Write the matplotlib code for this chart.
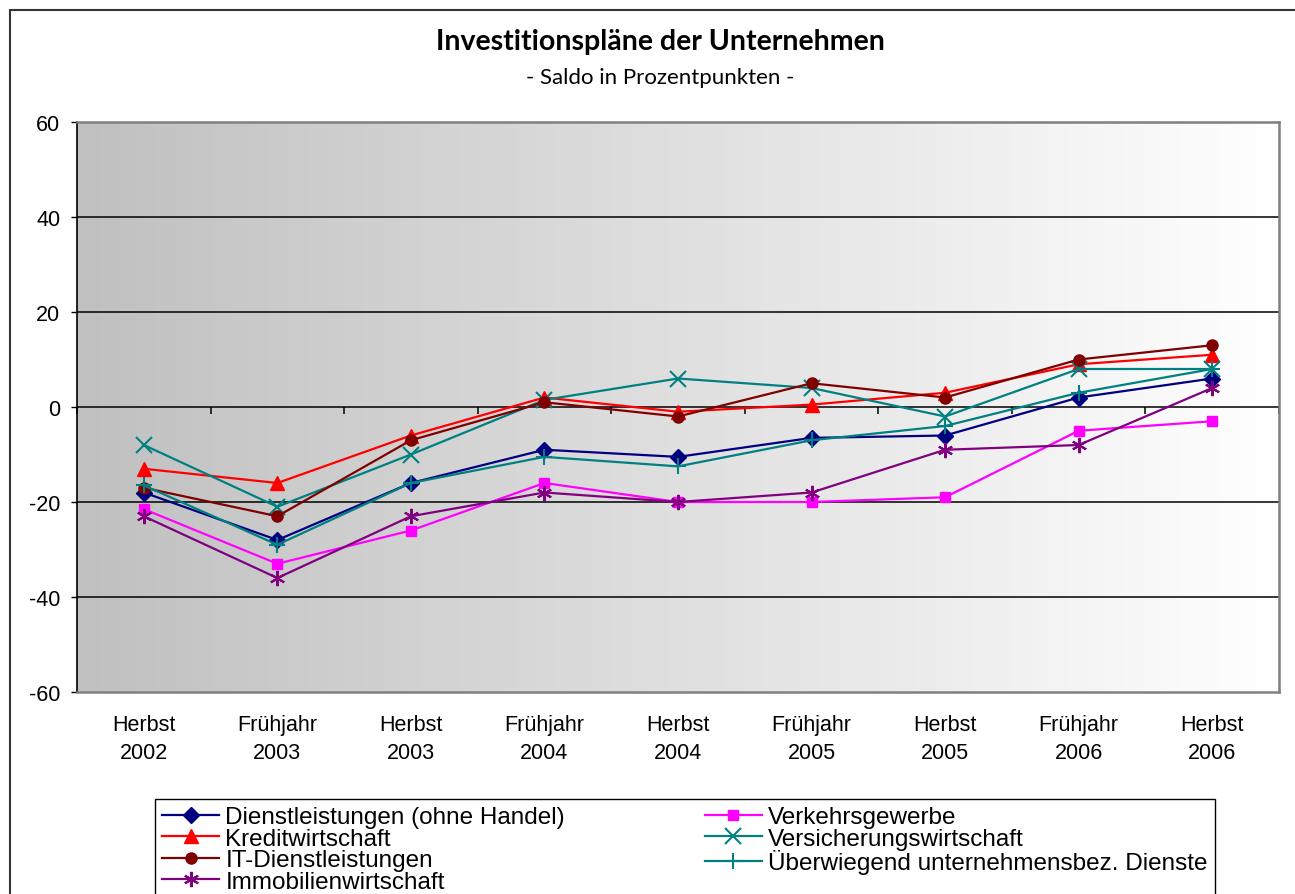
import numpy as np
import matplotlib
matplotlib.use("Agg")
import matplotlib.pyplot as plt
from matplotlib.colors import LinearSegmentedColormap
from matplotlib.patches import Rectangle

categories = ["Herbst\n2002", "Frühjahr\n2003", "Herbst\n2003", "Frühjahr\n2004",
              "Herbst\n2004", "Frühjahr\n2005", "Herbst\n2005", "Frühjahr\n2006",
              "Herbst\n2006"]

dienstleistungen = [-18, -28, -16, -9, -10.5, -6.5, -6, 2, 6]
verkehrsgewerbe = [-21.5, -33, -26, -16, -20, -20, -19, -5, -3]
kreditwirtschaft = [-13, -16, -6, 2, -1, 0.5, 3, 9, 11]
versicherungswirtschaft = [-8, -21, -10, 1.5, 6, 4, -2, 8, 8]
it_dienstleistungen = [-17, -23, -7, 1, -2, 5, 2, 10, 13]
ueberwiegend = [-16.5, -29, -16, -10.5, -12.5, -7, -4, 3, 8]
immobilien = [-23, -36, -23, -18, -20, -18, -9, -8, 4]

yticks = [-60, -40, -20, 0, 20, 40, 60]

title = "Investitionspläne der Unternehmen"
subtitle = "- Saldo in Prozentpunkten -"

plt.rcParams['font.family'] = ['Liberation Sans', 'DejaVu Sans']

W, H = 1295, 895
fig = plt.figure(figsize=(W / 100, H / 100), dpi=100)

# outer border
fig.patches.append(Rectangle((10 / W, -0.05), 1.2, 1 - 11 / H + 0.05,
                             transform=fig.transFigure, fill=False,
                             edgecolor='#333333', linewidth=1.5))

ax = fig.add_axes([77 / W, 1 - 693 / H, (1279 - 77) / W, (693 - 123) / H])

x = np.arange(len(categories))

# gradient background
grad = np.linspace(0, 1, 512).reshape(1, -1)
cmap = LinearSegmentedColormap.from_list("g", ["#c0c0c0", "#ffffff"])
ax.imshow(grad, extent=[-0.5, len(categories) - 0.5, yticks[0], yticks[-1]],
          aspect='auto', cmap=cmap, zorder=0, interpolation='bicubic')

for yv in yticks[1:-1]:
    ax.axhline(yv, color='black', linewidth=1.1, zorder=1)

series = [
    ("Dienstleistungen (ohne Handel)", dienstleistungen, '#000080', dict(marker='D', markersize=8)),
    ("Verkehrsgewerbe", verkehrsgewerbe, '#ff00ff', dict(marker='s', markersize=7.5)),
    ("Kreditwirtschaft", kreditwirtschaft, '#ff0000', dict(marker='^', markersize=10)),
    ("Versicherungswirtschaft", versicherungswirtschaft, '#008080', dict(marker='x', markersize=12, markeredgewidth=1.5)),
    ("IT-Dienstleistungen", it_dienstleistungen, '#800000', dict(marker='o', markersize=8)),
    ("Überwiegend unternehmensbez. Dienste", ueberwiegend, '#008080', dict(marker='+', markersize=12, markeredgewidth=1.5)),
    ("Immobilienwirtschaft", immobilien, '#800080', dict(marker=(6, 2, 0), markersize=11, markeredgewidth=1.5)),
]

handles = {}
for i, (name, vals, col, mk) in enumerate(series):
    ln, = ax.plot(x, vals, color=col, linewidth=1.6, markerfacecolor=col,
                  markeredgecolor=col, label=name, zorder=3 + i, **mk)
    handles[name] = ln

ax.set_xlim(-0.5, len(categories) - 0.5)
ax.set_ylim(yticks[0], yticks[-1])
ax.set_yticks(yticks)
ax.set_yticklabels([str(v) for v in yticks])
ax.set_xticks(x)
ax.set_xticklabels(categories, linespacing=1.45)
ax.tick_params(axis='x', length=0, pad=16, labelsize=15.5)
ax.tick_params(axis='y', direction='out', length=4, width=1, pad=8, labelsize=15.5)

for s in ['top', 'right', 'bottom']:
    ax.spines[s].set_color('#808080')
    ax.spines[s].set_linewidth(1.8)
ax.spines['left'].set_color('black')
ax.spines['left'].set_linewidth(1.2)

# category axis crossing at zero: tick marks between categories
sec = ax.secondary_xaxis((0 - yticks[0]) / (yticks[-1] - yticks[0]))
sec.set_xticks(np.arange(-0.5, len(categories), 1.0))
sec.xaxis.set_ticks_position('bottom')
sec.tick_params(direction='out', length=5, width=1.1, color='black',
                labelbottom=False, labeltop=False)
for s in ['top', 'left', 'right', 'bottom']:
    sec.spines[s].set_visible(False)
sec.set_xticklabels([])

fig.text(660 / W, 1 - 42 / H, title, ha='center', va='center',
         fontsize=20.5, fontweight='bold', family=['Lato', 'DejaVu Sans'])
fig.text(660 / W, 1 - 78 / H, subtitle, ha='center', va='center',
         fontsize=16, family=['Lato', 'DejaVu Sans'])

order = ["Dienstleistungen (ohne Handel)", "Kreditwirtschaft", "IT-Dienstleistungen",
         "Immobilienwirtschaft", "Verkehrsgewerbe", "Versicherungswirtschaft",
         "Überwiegend unternehmensbez. Dienste"]
leg = fig.legend([handles[n] for n in order], order, ncol=2,
                 loc='upper left', bbox_to_anchor=(155 / W, 1 - 800 / H),
                 fontsize=17.5, frameon=True, fancybox=False, framealpha=1,
                 edgecolor='black', handlelength=2.35, handletextpad=0.25,
                 columnspacing=5.75, labelspacing=-0.02, borderpad=0.3,
                 borderaxespad=0)
leg.get_frame().set_linewidth(1.0)

fig.savefig("out.png", dpi=100)
